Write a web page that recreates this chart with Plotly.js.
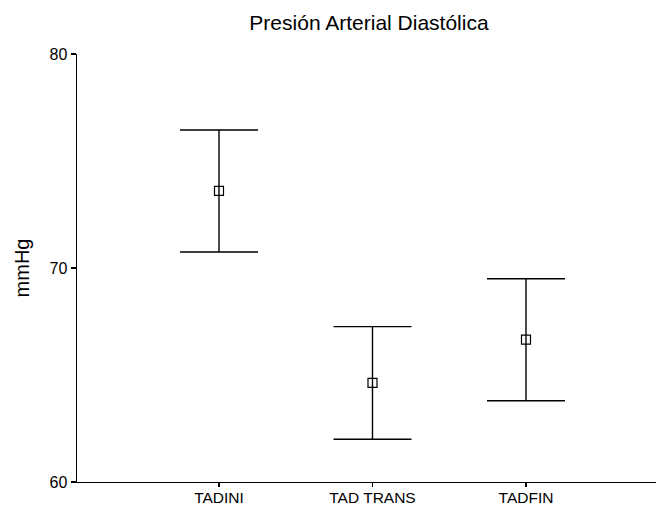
<!DOCTYPE html>
<html>
<head>
<meta charset="utf-8">
<script src="https://cdn.plot.ly/plotly-3.0.1.min.js"></script>
<style>html,body{margin:0;padding:0;background:#fff;}#chart{width:656px;height:508px;}</style>
</head>
<body>
<div id="chart"></div>
<script>
const categories = ["TADINI", "TAD TRANS", "TADFIN"];
const means = [73.6, 64.63, 66.65];
const errors = [2.85, 2.63, 2.85];
const yTickVals = [60, 70, 80];

const trace = {
  type: "scatter",
  mode: "markers",
  x: categories,
  y: means,
  marker: {symbol: "square-open", size: 9, color: "#000", line: {width: 1.2, color: "#000"}},
  error_y: {type: "data", array: errors, visible: true, color: "#000", thickness: 1.4, width: 39},
  hoverinfo: "none"
};

const layout = {
  width: 656, height: 508,
  margin: {l: 77, r: 0, t: 54, b: 26},
  paper_bgcolor: "#fff", plot_bgcolor: "#fff",
  font: {family: "Liberation Sans, Arial, sans-serif", color: "#000", size: 16},
  showlegend: false,
  title: {text: "Presión Arterial Diastólica", font: {size: 21, color: "#000"},
          xref: "container", x: 0.5625, xanchor: "center", yref: "container", y: 0.955, yanchor: "middle"},
  xaxis: {type: "category", range: [-0.925, 2.847], showgrid: false, zeroline: false,
          showline: true, linecolor: "#000", linewidth: 1.4, ticks: "outside", ticklen: 4, tickwidth: 1.2,
          tickcolor: "#000", tickfont: {size: 15.5}, ticklabelstandoff: -3},
  yaxis: {range: [60, 80], tickvals: yTickVals, showgrid: false, zeroline: false,
          showline: true, linecolor: "#000", linewidth: 1.4, ticks: "outside", ticklen: 5, tickwidth: 1.2,
          tickcolor: "#000", tickfont: {size: 16},
          title: {text: "mmHg", font: {size: 20}, standoff: 14}}
};

Plotly.newPlot("chart", [trace], layout, {displayModeBar: false, staticPlot: true});
</script>
</body>
</html>
